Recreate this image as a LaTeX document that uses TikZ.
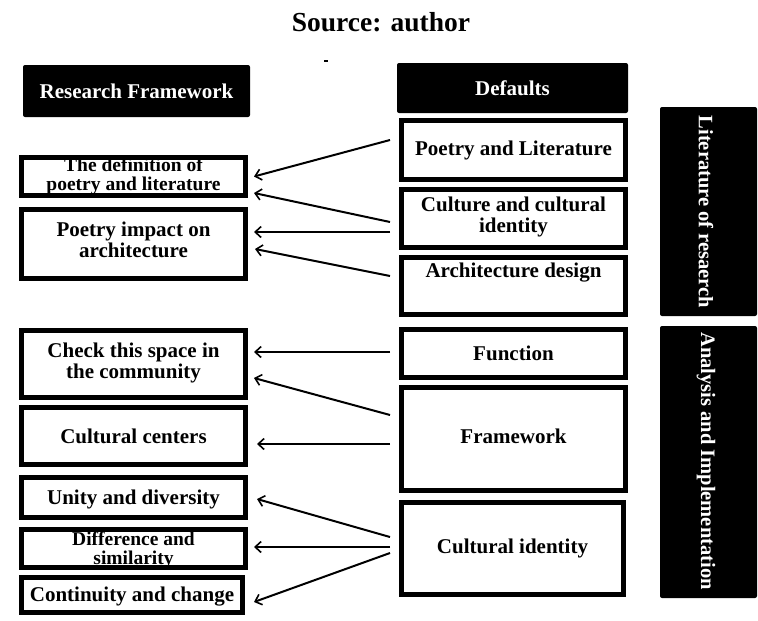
\documentclass[tikz,border=0pt]{standalone}
\usepackage{fontspec}
\setmainfont{Liberation Serif}
\usetikzlibrary{arrows.meta,calc}
\begin{document}
\begin{tikzpicture}[x=1pt,y=-1pt,
  txt/.style={font=\fontsize{21}{21}\selectfont\bfseries, align=center},
  tighttxt/.style={font=\fontsize{19.5}{19.5}\selectfont\bfseries, align=center},
  blackbox/.style={fill=black, rounded corners=2pt, inner sep=0pt, text=white, txt},
  wbox/.style={draw=black, line width=5pt, fill=white, inner sep=0pt, txt},
  arr/.style={line width=2pt, -{Straight Barb[length=6pt,width=11pt,line width=1.6pt]}},
  vtxt/.style={font=\fontsize{20.5}{20.5}\selectfont\bfseries, text=white, rotate=-90}
]
\useasboundingbox (0,0) rectangle (758,621);

\node[font=\fontsize{27.5}{27.5}\selectfont\bfseries] (title) at (381,22) {Source: author};
\draw[line width=1.5pt] (324,61) -- (328,61);

% header boxes
\node[blackbox, minimum width=227pt, minimum height=52pt] (rf) at (136.5,91) {Research Framework};
\node[blackbox, minimum width=231pt, minimum height=50pt] (df) at (512.5,88) {Defaults};

% right boxes (outer 399-628)
\node[wbox, minimum width=224pt, minimum height=59pt] (pl) at (513.5,150) {Poetry and Literature};
\node[wbox, minimum width=224pt, minimum height=58pt] (cc) at (513.5,218.5) {};
\node[txt] (cctext) at (513.5,217) {Culture and cultural\\identity};
\node[wbox, minimum width=224pt, minimum height=57pt] (ad) at (513.5,286) {};
\node[txt] (adtext) at (513.5,273) {Architecture design};
\node[wbox, minimum width=224pt, minimum height=48pt] (fn) at (513.5,353.5) {Function};
\node[wbox, minimum width=224pt, minimum height=103pt] (fw) at (513.5,439) {};
\node[txt] (fwtext) at (513.5,436) {Framework};
\node[wbox, minimum width=222pt, minimum height=92pt] (ci) at (512.5,548.5) {Cultural identity};

% vertical black bars
\node[blackbox, minimum width=97pt, minimum height=209pt] (lr) at (708.5,211.5) {};
\node[vtxt] (lrtext) at (706,212) {Literature of resaerch};
\node[blackbox, minimum width=97pt, minimum height=272pt] (ai) at (708.5,462) {};
\node[vtxt] (aitext) at (706,461) {Analysis and Implementation};

% left boxes (outer 19-248)
\node[wbox, minimum width=224pt, minimum height=38pt] (def) at (133.5,176.5) {};
\node[tighttxt] (deftext) at (133.5,176) {The definition of\\poetry and literature};
\node[wbox, minimum width=224pt, minimum height=69pt] (pi) at (133.5,244) {};
\node[txt] (pitext) at (133.5,240) {Poetry impact on\\architecture};
\node[wbox, minimum width=224pt, minimum height=67pt] (ch) at (133.5,364) {};
\node[txt] (chtext) at (133.5,363) {Check this space in\\the community};
\node[wbox, minimum width=224pt, minimum height=57pt] (cen) at (133.5,436) {Cultural centers};
\node[wbox, minimum width=224pt, minimum height=40pt] (un) at (133.5,497.5) {};
\node[txt] (untext) at (133.5,499) {Unity and diversity};
\node[wbox, minimum width=224pt, minimum height=38pt] (dif) at (133.5,548.5) {};
\node[tighttxt] (diftext) at (133.5,550) {Difference and\\similarity};
\node[wbox, minimum width=221pt, minimum height=35pt] (con) at (132,595) {};
\node[txt] (context) at (132,597) {Continuity and change};

% arrow start coordinates
\coordinate (s1) at (390,140);
\coordinate (s2) at (390,222);
\coordinate (s3) at (390,232);
\coordinate (s4) at (390,276);
\coordinate (s5) at (390,352);
\coordinate (s6) at (390,415);
\coordinate (s7) at (390,444);
\coordinate (s8) at (390,537);
\coordinate (s9) at (390,547);
\coordinate (s10) at (390,553);

\draw[arr] (s1) -- ($(def.east)+(6,0)$);
\draw[arr] (s2) -- ($(def.east)+(6,16.5)$);
\draw[arr] (s3) -- ($(pi.east)+(6,-12)$);
\draw[arr] (s4) -- ($(pi.east)+(7,5)$);
\draw[arr] (s5) -- ($(ch.east)+(6,-12)$);
\draw[arr] (s6) -- ($(ch.east)+(6,14)$);
\draw[arr] (s7) -- ($(cen.east)+(9,8)$);
\draw[arr] (s8) -- ($(un.east)+(9,1.5)$);
\draw[arr] (s9) -- ($(dif.east)+(6,-1.5)$);
\draw[arr] (s10) -- ($(con.east)+(9,7)$);
\end{tikzpicture}
\end{document}
